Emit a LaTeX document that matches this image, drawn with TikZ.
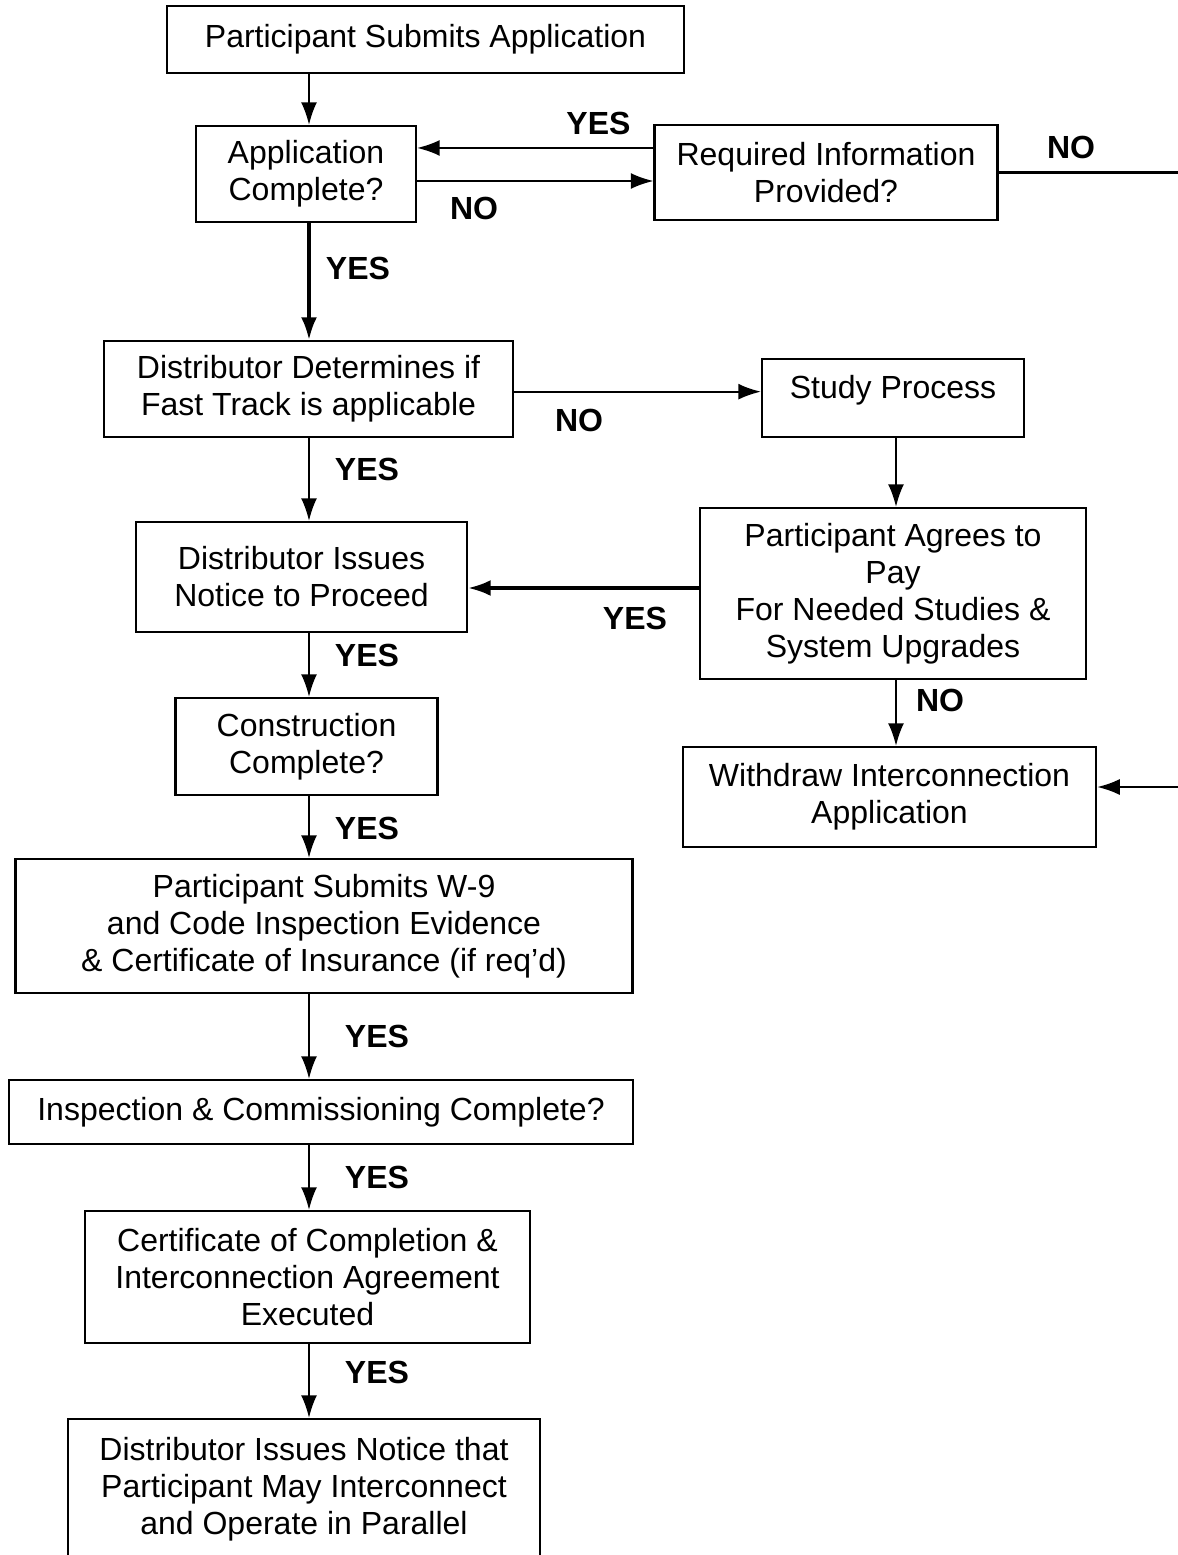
\documentclass[tikz,border=0pt]{standalone}
\usepackage{fontspec}
\setmainfont{Liberation Sans}
\usetikzlibrary{arrows.meta}

\begin{document}
\begin{tikzpicture}[x=0.75pt, y=-0.75pt,
        box/.style={draw, line width=1.6pt, align=center, inner sep=0pt, font=\fontsize{24}{27.75}\selectfont},
        boxsize/.style 2 args={minimum width=#1*0.75pt, minimum height=#2*0.75pt},
        flow/.style={-{Latex[length=17pt,width=12pt]}, line width=1.5pt},
        bigflow/.style={flow, line width=2.6pt},
        answer/.style={font=\fontsize{24}{27.75}\selectfont\bfseries}]
        \useasboundingbox (0,0) rectangle (1177,1555);

        \node[box, boxsize={517}{67}] (submit) at (425.5,39.5) {Participant Submits Application};
        \node[box, boxsize={220}{96}] (appcomplete) at (306,174) {Application\\Complete?};
        \node[box, boxsize={343}{95}] (reqinfo) at (826,172.5) {Required Information\\Provided?};
        \node[box, boxsize={409}{96}] (fasttrack) at (308.5,389) {Distributor Determines if\\Fast Track is applicable};
        \node[box, boxsize={262}{78}, text depth=16pt] (study) at (893,398) {Study Process};
        \node[box, boxsize={331}{110}] (proceed) at (301.5,577) {Distributor Issues\\Notice to Proceed};
        \node[box, boxsize={386}{171}] (agree) at (893,593.5) {Participant Agrees to\\Pay\\For Needed Studies \&\\System Upgrades};
        \node[box, boxsize={262}{97}] (construct) at (306.5,746.5) {Construction\\Complete?};
        \node[box, boxsize={413}{100}] (withdraw) at (889.5,797) {Withdraw Interconnection\\Application};
        \node[box, boxsize={617}{134}] (wnine) at (324,926) {Participant Submits W-9\\and Code Inspection Evidence\\\& Certificate of Insurance (if req’d)};
        \node[box, boxsize={624}{64}] (inspect) at (321,1112) {Inspection \& Commissioning Complete?};
        \node[box, boxsize={445}{132}] (certify) at (307.5,1277) {Certificate of Completion \&\\Interconnection Agreement\\Executed};
        \node[box, boxsize={472}{141}] (notice) at (304,1489.5) {Distributor Issues Notice that\\Participant May Interconnect\\and Operate in Parallel};

        \coordinate (spine) at (309,0);
        \coordinate (rspine) at (896,0);
        \coordinate (edge) at (1190,0);
        \coordinate (yesback) at ([yshift=18.4pt]reqinfo.west);
        \coordinate (noout) at ([yshift=-5.25pt]appcomplete.east);
        \coordinate (nowithdraw) at ([yshift=7.5pt]withdraw.east);
        \coordinate (tostudy) at ([yshift=-2pt]fasttrack.east);
        \coordinate (yesproceed) at ([yshift=-8.25pt]proceed.east);

        \draw[flow] (submit.south -| spine) -- (appcomplete.north -| spine);
        \draw[flow] (yesback) -- (yesback -| appcomplete.east);
        \draw[flow] (noout) -- (noout -| reqinfo.west);
        \draw[flow, line width=1.8pt] (reqinfo.east) -- (reqinfo.east -| edge) |- (nowithdraw);
        \draw[bigflow] (appcomplete.south -| spine) -- (fasttrack.north -| spine);
        \draw[flow] (tostudy) -- (tostudy -| study.west);
        \draw[flow] (fasttrack.south -| spine) -- (proceed.north -| spine);
        \draw[flow] (study.south -| rspine) -- (agree.north -| rspine);
        \draw[bigflow] (yesproceed -| agree.west) -- (yesproceed);
        \draw[flow] (agree.south -| rspine) -- (withdraw.north -| rspine);
        \draw[flow] (proceed.south -| spine) -- (construct.north -| spine);
        \draw[flow] (construct.south -| spine) -- (wnine.north -| spine);
        \draw[flow] (wnine.south -| spine) -- (inspect.north -| spine);
        \draw[flow] (inspect.south -| spine) -- (certify.north -| spine);
        \draw[flow] (certify.south -| spine) -- (notice.north -| spine);

        \node[answer] (yesinfo) at (598.5,123) {YES};
        \node[answer] (noapp) at (474,208) {NO};
        \node[answer] (noinfo) at (1071,147) {NO};
        \node[answer] (yesapp) at (358,268) {YES};
        \node[answer] (nofast) at (579,420) {NO};
        \node[answer] (yesfast) at (367,469) {YES};
        \node[answer] (yesagree) at (635,618) {YES};
        \node[answer] (noagree) at (940,700) {NO};
        \node[answer] (yesproceedlbl) at (367,655) {YES};
        \node[answer] (yesconstruct) at (367,828) {YES};
        \node[answer] (yeswnine) at (377,1036) {YES};
        \node[answer] (yesinspect) at (377,1177) {YES};
        \node[answer] (yescertify) at (377,1372) {YES};
      \end{tikzpicture}
\end{document}
